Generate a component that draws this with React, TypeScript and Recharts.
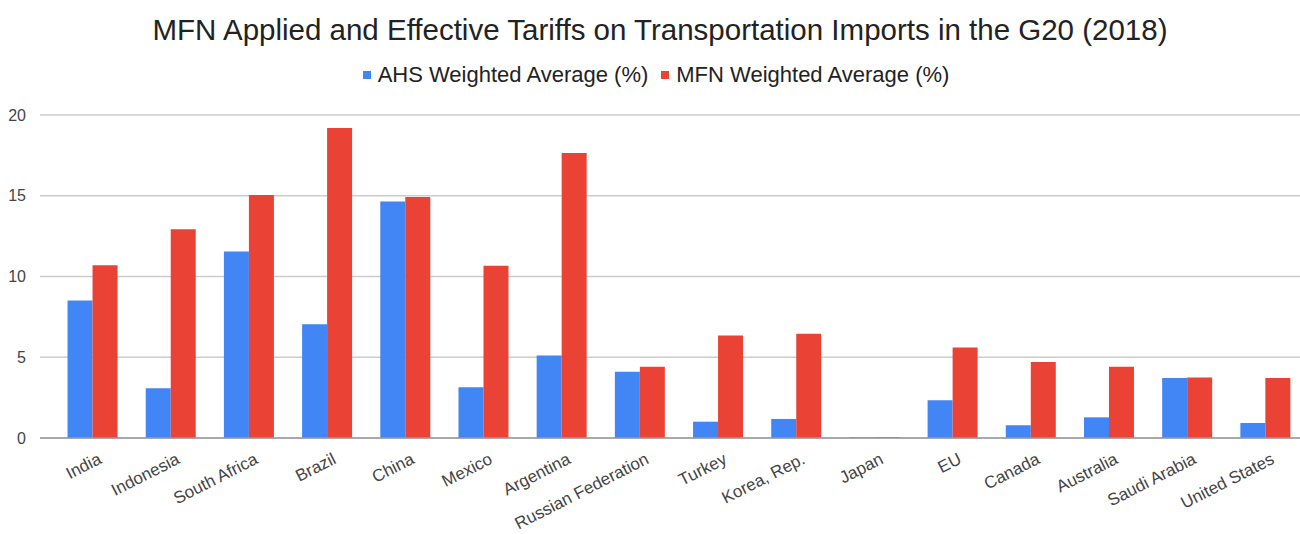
import { BarChart, Bar, XAxis, YAxis, CartesianGrid } from 'recharts';

// ─── Data ────────────────────────────────────────────────────────────────────

const countries = [
  'India',
  'Indonesia',
  'South Africa',
  'Brazil',
  'China',
  'Mexico',
  'Argentina',
  'Russian Federation',
  'Turkey',
  'Korea, Rep.',
  'Japan',
  'EU',
  'Canada',
  'Australia',
  'Saudi Arabia',
  'United States',
];

const ahsValues = [
  8.51, 3.08, 11.55, 7.04, 14.64, 3.15, 5.11, 4.1, 1.01, 1.18, 0.04, 2.34, 0.79,
  1.28, 3.71, 0.93,
];

const mfnValues = [
  10.7, 12.92, 15.05, 19.19, 14.93, 10.66, 17.64, 4.41, 6.34, 6.46, 0.05, 5.61,
  4.7, 4.41, 3.75, 3.71,
];

const yTicks = [0, 5, 10, 15, 20];

const seriesNames = ['AHS Weighted Average (%)', 'MFN Weighted Average (%)'];

// ─── Colors ──────────────────────────────────────────────────────────────────

const AHS_COLOR = '#4285F4';
const MFN_COLOR = '#EA4335';
const FONT = '"Liberation Sans", Arial, sans-serif';

const chartData = countries.map((name, i) => ({
  name,
  ahs: ahsValues[i],
  mfn: mfnValues[i],
}));

function AngledTick({ x, y, payload }: any) {
  return (
    <g transform={`translate(${x + 5},${y + 6})`}>
      <text
        x={0}
        y={0}
        dy="0.71em"
        textAnchor="end"
        transform="rotate(-27)"
        fontSize={17}
        fill="#444"
        fontFamily={FONT}
      >
        {payload.value}
      </text>
    </g>
  );
}

function LegendBlock() {
  const colors = [AHS_COLOR, MFN_COLOR];
  return (
    <div
      style={{
        position: 'absolute',
        top: 62,
        left: 6,
        width: 1300,
        display: 'flex',
        justifyContent: 'center',
        gap: 13,
        fontFamily: FONT,
        fontSize: 22,
        color: '#222',
      }}
    >
      {seriesNames.map((label, i) => (
        <span key={label} style={{ display: 'flex', alignItems: 'center' }}>
          <span
            style={{
              width: 8,
              height: 8,
              background: colors[i],
              marginRight: 7,
              display: 'inline-block',
            }}
          />
          {label}
        </span>
      ))}
    </div>
  );
}

export default function App() {
  return (
    <div
      style={{
        position: 'absolute',
        left: 0,
        top: 0,
        width: 1300,
        height: 534,
        overflow: 'hidden',
        background: '#fff',
      }}
    >
      <div
        style={{
          position: 'absolute',
          top: 13,
          left: 0,
          width: 1320,
          textAlign: 'center',
          fontFamily: FONT,
          fontSize: 29.5,
          color: '#222',
        }}
      >
        MFN Applied and Effective Tariffs on Transportation Imports in the G20 (2018)
      </div>
      <LegendBlock />
      <BarChart
        width={1304}
        height={534}
        data={chartData}
        margin={{ top: 115, right: 0, bottom: 0, left: 0 }}
        barCategoryGap="18.6%"
        barGap={0}
      >
        <CartesianGrid vertical={false} stroke="#ccc" strokeWidth={1.5} />
        <XAxis
          dataKey="name"
          interval={0}
          height={96}
          padding={{ left: 13, right: 0 }}
          tickLine={false}
          axisLine={{ stroke: '#999', strokeWidth: 1.5 }}
          tick={<AngledTick />}
        />
        <YAxis
          width={40}
          domain={[0, 20]}
          ticks={yTicks}
          tickLine={false}
          axisLine={false}
          tick={{ fontSize: 16, fill: '#444', fontFamily: FONT }}
          tickMargin={8}
        />
        <Bar
          dataKey="ahs"
          name={seriesNames[0]}
          fill={AHS_COLOR}
          isAnimationActive={false}
        />
        <Bar
          dataKey="mfn"
          name={seriesNames[1]}
          fill={MFN_COLOR}
          isAnimationActive={false}
        />
      </BarChart>
    </div>
  );
}
